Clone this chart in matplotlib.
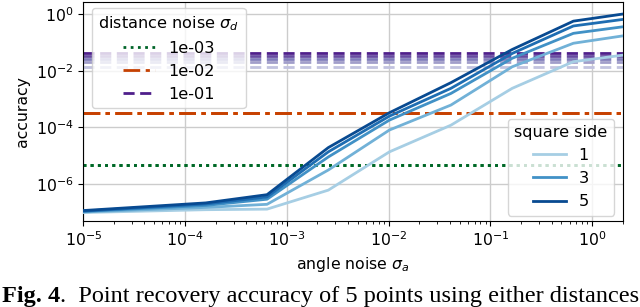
import numpy as np
import matplotlib
matplotlib.use("Agg")
import matplotlib.pyplot as plt
from matplotlib.lines import Line2D

# angle noise sigma_a (x values)
angle_noise = [1e-5, 1.6e-4, 6.4e-4, 2.56e-3, 1.02e-2, 4.1e-2, 0.164, 0.655, 2.0]

# square side values
square_sides = [1, 2, 3, 4, 5]

# log10(accuracy) for the angle-noise curves, one list per square side
acc_side_1 = [-7.00, -6.90, -6.88, -6.21, -4.86, -3.92, -2.62, -1.68, -1.45]
acc_side_2 = [-6.98, -6.82, -6.71, -5.50, -4.09, -3.21, -1.86, -1.03, -0.77]
acc_side_3 = [-6.96, -6.75, -6.53, -5.04, -3.74, -2.80, -1.56, -0.68, -0.45]
acc_side_4 = [-6.95, -6.70, -6.45, -4.86, -3.60, -2.62, -1.39, -0.42, -0.19]
acc_side_5 = [-6.93, -6.66, -6.37, -4.71, -3.48, -2.42, -1.25, -0.25, 0.00]

# distance noise levels and their (constant) accuracy per square side
distance_noise = ["1e-03", "1e-02", "1e-01"]
dist_acc_1e3 = [4.7e-6, 4.7e-6, 4.7e-6, 4.7e-6, 4.7e-6]
dist_acc_1e2 = [3.2e-4, 3.2e-4, 3.2e-4, 3.2e-4, 3.2e-4]
dist_acc_1e1 = [0.0138, 0.020, 0.026, 0.034, 0.043]

plt.rcParams['font.family'] = ['DejaVu Sans']
plt.rcParams['mathtext.fontset'] = 'dejavusans'

fig = plt.figure(figsize=(6.4, 3.07), dpi=100)
ax = fig.add_axes([0.13, 0.28, 0.843, 0.713])

shade = np.linspace(0.35, 0.9, 5)
dist_sets = [
    (dist_acc_1e3, plt.cm.Greens, (0, (1, 1.6)), 0.9),
    (dist_acc_1e2, plt.cm.Oranges, (0, (6, 2, 1.5, 2)), 0.8),
    (dist_acc_1e1, plt.cm.Purples, (0, (4, 2)), 0.9),
]
for vals, cmap, ls, top in dist_sets:
    sh = np.linspace(0.35, top, 5)
    for i, v in enumerate(vals):
        ax.axhline(v, color=cmap(sh[i]), ls=ls, lw=2, zorder=2)

curves = [acc_side_1, acc_side_2, acc_side_3, acc_side_4, acc_side_5]
for i, c in enumerate(curves):
    ax.plot(angle_noise, 10 ** np.array(c), color=plt.cm.Blues(shade[i]), lw=2, zorder=3)

ax.set_xscale('log')
ax.set_yscale('log')
ax.set_xlim(1e-5, 2.0)
ax.set_ylim(10 ** -7.3, 10 ** 0.42)
ax.set_yticks([1e-6, 1e-4, 1e-2, 1e0])
ax.yaxis.set_minor_locator(matplotlib.ticker.NullLocator())
ax.grid(True, which='major', color='#cccccc', lw=1)
ax.set_axisbelow(True)
ax.tick_params(labelsize=11.3)
ax.set_xlabel(r'angle noise $\sigma_a$', fontsize=11.3)
ax.set_ylabel('accuracy', fontsize=11.3)

h1 = [Line2D([], [], color=cm(top), ls=ls, lw=2) for _, cm, ls, top in dist_sets]
leg1 = ax.legend(h1, distance_noise, title=r'distance noise $\sigma_d$', loc='upper left',
                 fontsize=11.6, title_fontsize=11.6, bbox_to_anchor=(0.01, 0.99), borderaxespad=0.2)
ax.add_artist(leg1)
h2 = [Line2D([], [], color=plt.cm.Blues(shade[i]), lw=2) for i in (0, 2, 4)]
ax.legend(h2, [str(square_sides[i]) for i in (0, 2, 4)], title='square side', loc='lower right',
          fontsize=11.6, title_fontsize=11.6, bbox_to_anchor=(0.99, 0.01), borderaxespad=0.2)

cap_y = 0.017
t1 = fig.text(0.003, cap_y, 'Fig. 4', fontsize=17.5, family='Liberation Serif',
              fontweight='bold', va='baseline')
fig.canvas.draw()
bb = t1.get_window_extent(renderer=fig.canvas.get_renderer())
x2 = bb.x1 / fig.bbox.width
fig.text(x2, cap_y, '.  Point recovery accuracy of 5 points using either distances',
         fontsize=17.5, family='Liberation Serif', va='baseline')

fig.savefig('out.png', dpi=100)
